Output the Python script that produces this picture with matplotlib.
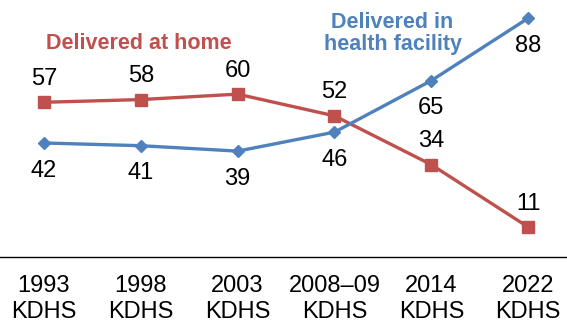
import matplotlib.pyplot as plt

surveys = ["1993\nKDHS", "1998\nKDHS", "2003\nKDHS", "2008\u201309\nKDHS", "2014\nKDHS", "2022\nKDHS"]
home = [57, 58, 60, 52, 34, 11]
facility = [42, 41, 39, 46, 65, 88]

red = "#C0504D"
blue = "#4F81BD"

plt.rcParams['font.family'] = ['Liberation Sans', 'DejaVu Sans']

fig = plt.figure(figsize=(5.67, 3.24), dpi=100)
ax = fig.add_axes([-0.008, 0.207, 1.025, 0.793])

x = list(range(len(surveys)))
ax.plot(x, home, color=red, lw=2.4, marker="s", ms=9, clip_on=False, zorder=3)
ax.plot(x, facility, color=blue, lw=2.4, marker="D", ms=6.5, clip_on=False, zorder=3)

# values: home above the markers, facility below
for xi, v in zip(x, home):
    ax.annotate(str(v), (xi, v), xytext=(0, 9), textcoords="offset points",
                ha="center", va="bottom", fontsize=17)
for xi, v in zip(x, facility):
    ax.annotate(str(v), (xi, v), xytext=(0, -12), textcoords="offset points",
                ha="center", va="top", fontsize=17)

ax.text(0.98, 78.5, "Delivered at home", color=red, fontsize=15.5,
        fontweight="bold", ha="center", va="center")
ax.text(3.6, 82.3, "Delivered in\nhealth facility", color=blue, fontsize=15.5,
        fontweight="bold", ha="center", va="center", linespacing=1.05)

ax.set_xlim(-0.5, len(surveys) - 0.5)
ax.set_ylim(0, 94.7)
ax.set_xticks(x)
ax.set_xticklabels(surveys, fontsize=17, linespacing=1.25)
ax.tick_params(axis="x", length=0, pad=13)
ax.set_yticks([])
for side in ["top", "left", "right"]:
    ax.spines[side].set_visible(False)
ax.spines["bottom"].set_linewidth(1.0)

fig.savefig("out.png", dpi=100)
